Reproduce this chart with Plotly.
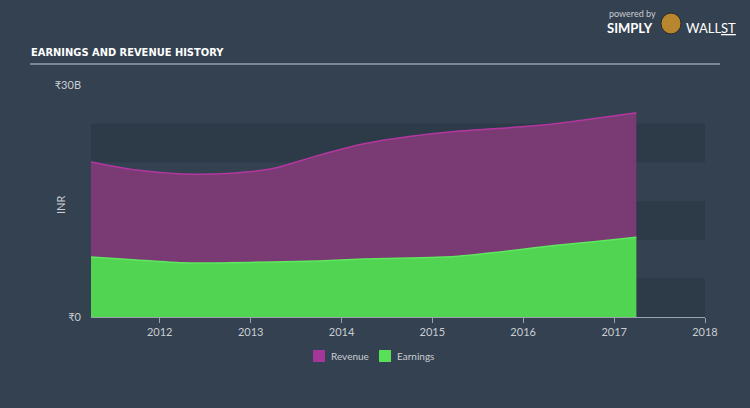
import plotly.graph_objects as go

dates = ["2011-03-31", "2011-09-30", "2012-03-31", "2012-09-30", "2013-03-31",
         "2013-09-30", "2014-03-31", "2014-09-30", "2015-03-31", "2015-09-30",
         "2016-03-31", "2016-09-30", "2017-03-31"]
revenue = [20.05, 19.0, 18.5, 18.55, 19.2, 20.9, 22.4, 23.35, 24.0, 24.4, 24.85, 25.6, 26.4]
earnings = [7.77, 7.38, 7.0, 7.0, 7.12, 7.25, 7.5, 7.64, 7.83, 8.4, 9.12, 9.7, 10.3]
year_ticks = ["2012-01-01", "2013-01-01", "2014-01-01", "2015-01-01",
              "2016-01-01", "2017-01-01", "2018-01-01"]
year_labels = ["2012", "2013", "2014", "2015", "2016", "2017", "2018"]
band_edges = [(0, 5), (10, 15), (20, 25)]

BG = "#334150"
BAND = "#2d3a48"
TXT = "#c9cdd2"
REV_FILL = "#7a3a74"
EARN_FILL = "#52d453"

fig = go.Figure()
fig.add_trace(go.Scatter(
    x=dates, y=[v * 1e9 for v in revenue], name="Revenue",
    mode="lines", line=dict(color="#b4379f", width=1.5, shape="spline", smoothing=0.8),
    fill="tozeroy", fillcolor=REV_FILL, showlegend=False))
fig.add_trace(go.Scatter(
    x=dates, y=[v * 1e9 for v in earnings], name="Earnings",
    mode="lines", line=dict(color="#5ee85e", width=1.5, shape="spline", smoothing=0.8),
    fill="tozeroy", fillcolor=EARN_FILL, showlegend=False))

for y0, y1 in band_edges:
    fig.add_shape(type="rect", xref="paper", x0=0, x1=1, yref="y", y0=y0 * 1e9, y1=y1 * 1e9,
                  fillcolor=BAND, line=dict(width=0), layer="below")

fig.update_layout(
    width=750, height=408,
    paper_bgcolor=BG, plot_bgcolor=BG,
    margin=dict(l=91, r=45, t=85, b=91),
    font=dict(family="Lato, Open Sans, sans-serif", color=TXT, size=11),
    showlegend=False,
    xaxis=dict(type="date", range=["2011-03-31", "2018-01-01"],
               tickvals=year_ticks, ticktext=year_labels,
               showgrid=False, zeroline=False, showline=True, linecolor="#9aa3ad", linewidth=1,
               ticks="outside", ticklen=5, tickcolor="#9aa3ad",
               tickfont=dict(size=11, color=TXT)),
    yaxis=dict(range=[0, 30e9], tickvals=[0, 30e9], ticktext=["₹0", "₹30B"],
               showgrid=False, zeroline=False, showline=False, ticks="",
               ticklabelstandoff=9,
               tickfont=dict(size=11, color=TXT)),
)

def px_x(px):
    return (px - 91) / 614.0

def px_y(py):
    return (317 - py) / 232.0

# INR axis title
fig.add_annotation(text="INR", xref="paper", yref="paper", x=px_x(60), y=px_y(205),
                   textangle=-90, showarrow=False, xanchor="center", yanchor="middle",
                   font=dict(size=11, color=TXT))

# Title and underline
fig.add_annotation(text="<b>EARNINGS AND REVENUE HISTORY</b>", xref="paper", yref="paper",
                   x=px_x(29), y=px_y(52), xanchor="left", yanchor="middle", showarrow=False,
                   font=dict(family="DejaVu Sans Condensed, Liberation Sans Narrow, sans-serif",
                             size=11, color="#ffffff"))
fig.add_shape(type="line", xref="paper", yref="paper", x0=px_x(30), x1=px_x(720),
              y0=px_y(64), y1=px_y(64), line=dict(color="#c9cdd2", width=1))

# Legend (manual swatches)
legend_items = [("Revenue", "#a5379a", 313), ("Earnings", "#58e058", 379)]
for label, col, left in legend_items:
    fig.add_shape(type="rect", xref="paper", yref="paper", x0=px_x(left), x1=px_x(left + 12),
                  y0=px_y(362), y1=px_y(350), fillcolor=col, line=dict(width=0))
    fig.add_annotation(text=label, xref="paper", yref="paper", x=px_x(left + 16), y=px_y(356),
                       xanchor="left", yanchor="middle", showarrow=False,
                       font=dict(size=10, color=TXT))

# Logo text
fig.add_annotation(text="powered by", xref="paper", yref="paper", x=px_x(607), y=px_y(13),
                   xanchor="left", yanchor="middle", showarrow=False,
                   font=dict(family="Lato, sans-serif", size=9, color="#c9cdd2"))
fig.add_annotation(text="<b>SIMPLY</b>", xref="paper", yref="paper", x=px_x(605), y=px_y(28.5),
                   xanchor="left", yanchor="middle", showarrow=False,
                   font=dict(family="Lato, sans-serif", size=13, color="#ffffff"))
fig.add_annotation(text="WALL<u>ST</u>", xref="paper", yref="paper", x=px_x(684), y=px_y(28),
                   xanchor="left", yanchor="middle", showarrow=False,
                   font=dict(family="Lato, sans-serif", size=13, color="#ffffff"))
fig.add_shape(type="circle", xref="paper", yref="paper", x0=px_x(661), x1=px_x(681),
              y0=px_y(34), y1=px_y(13), fillcolor="#b8862e", line=dict(color="#2a2a2a", width=1))

fig.write_html("out.html", config={"displayModeBar": False},
               post_script="document.body.style.margin='0';")
